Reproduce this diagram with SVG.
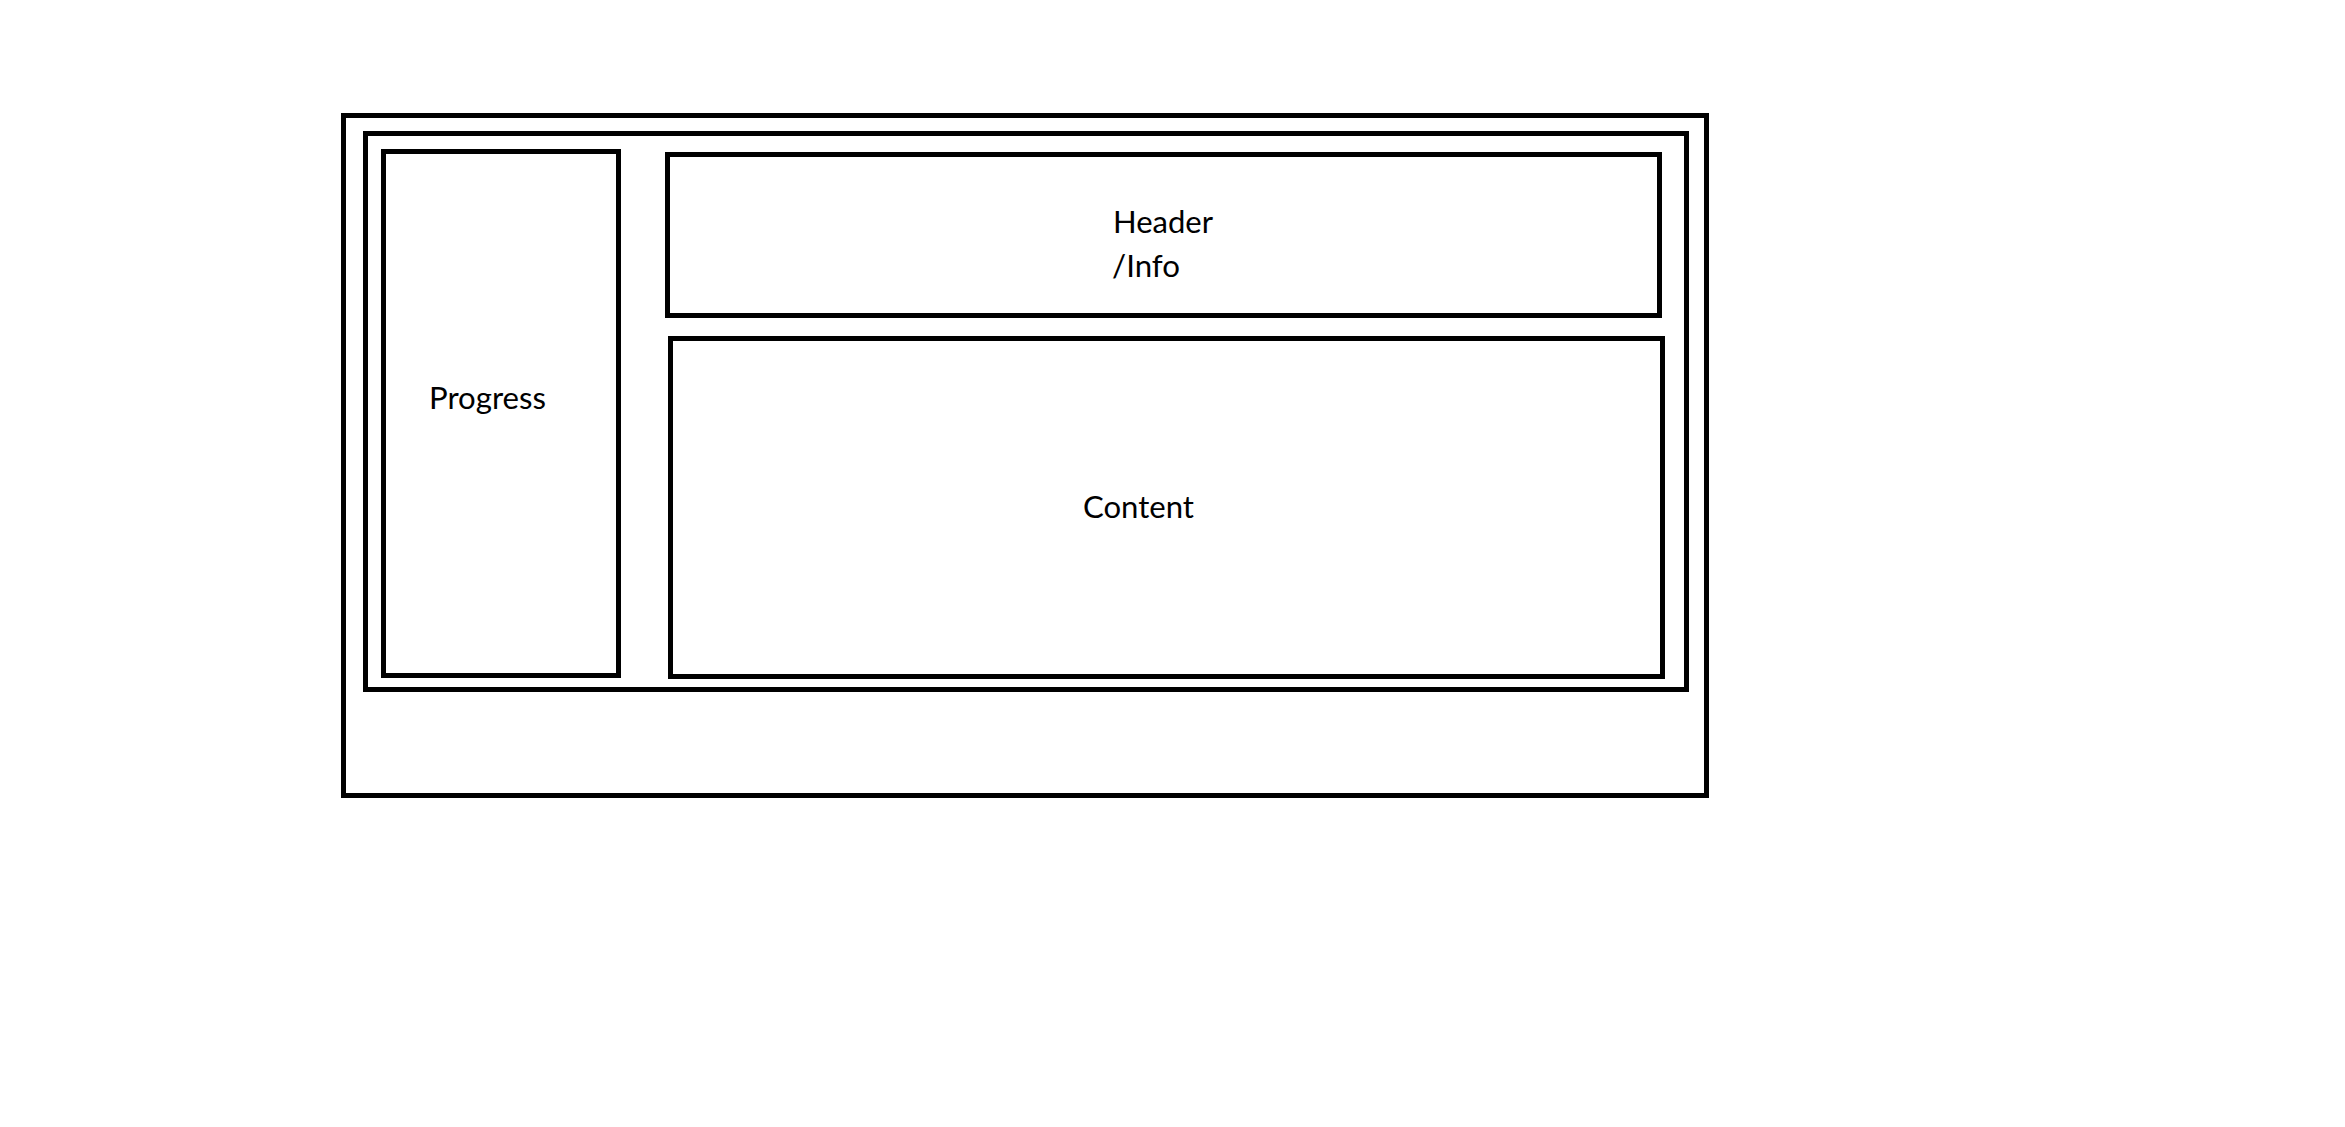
<svg xmlns="http://www.w3.org/2000/svg" width="2345" height="1127" viewBox="0 0 2345 1127">
<style>
.box{fill:none;stroke:#000;stroke-width:5}
.lbl{font-family:"Lato","Open Sans","Liberation Sans",sans-serif;font-size:30.5px;fill:#000}
</style>
<rect width="2345" height="1127" fill="#fff"/>
<g id="outer"><rect class="box" x="343.5" y="115.5" width="1363" height="680"/></g>
<g id="frame"><rect class="box" x="365.5" y="133.5" width="1321" height="556"/></g>
<g id="progress"><rect class="box" x="383.5" y="151.5" width="235" height="524"/><text class="lbl" x="429" y="409" textLength="117" lengthAdjust="spacingAndGlyphs">Progress</text></g>
<g id="header"><rect class="box" x="667.5" y="154.5" width="992" height="161"/><text class="lbl" x="1113" y="233" textLength="100" lengthAdjust="spacingAndGlyphs">Header</text><text class="lbl" x="1112" y="277" textLength="68" lengthAdjust="spacingAndGlyphs">/Info</text></g>
<g id="content"><rect class="box" x="670.5" y="338.5" width="992" height="338"/><text class="lbl" x="1083" y="518" textLength="111" lengthAdjust="spacingAndGlyphs">Content</text></g>
<g id="connectors"/>
</svg>
